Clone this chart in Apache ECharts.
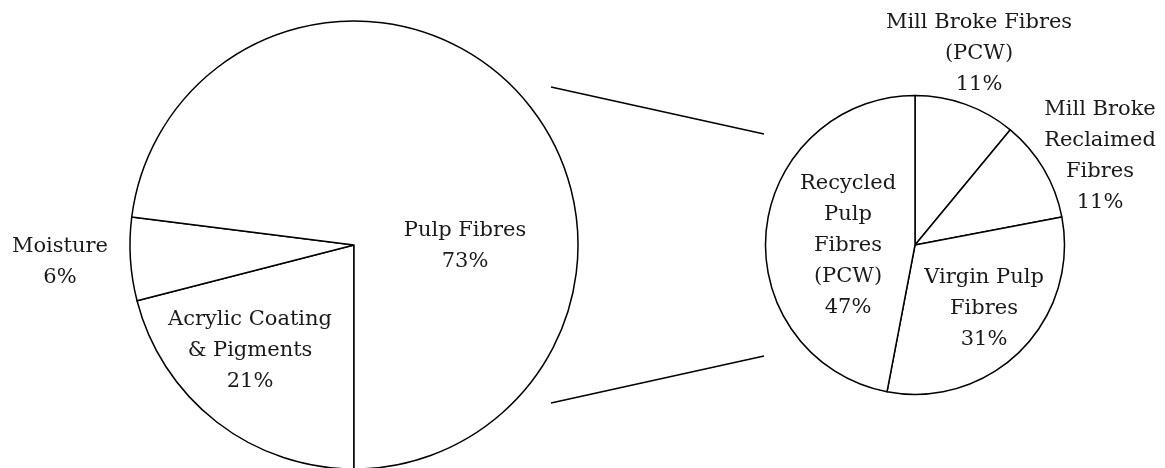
<!DOCTYPE html>
<html>
<head>
<meta charset="utf-8">
<script src="https://cdn.jsdelivr.net/npm/echarts@6/dist/echarts.min.js"></script>
<style>
  html, body { margin: 0; padding: 0; background: #fff; }
  #chart { width: 1165px; height: 468px; }
</style>
</head>
<body>
<div id="chart"></div>
<script>
// main pie: composition of the product
const mainLabels = ['Acrylic Coating\n& Pigments', 'Moisture', 'Pulp Fibres']
const mainValues = [21, 6, 73]

// breakdown of the pulp fibres
const pulpLabels = ['Mill Broke Fibres\n(PCW)', 'Mill Broke\nReclaimed\nFibres', 'Virgin Pulp\nFibres', 'Recycled\nPulp\nFibres\n(PCW)']
const pulpValues = [11, 11, 31, 47]

// label anchor points (centre of each text block), in px
const mainLabelPos = [[250, 351], [60, 262], [465, 246]]
const pulpLabelPos = [[979, 54], [1100, 156], [984, 309], [848, 246]]

const font = '"DejaVu Serif", serif'

const chart = echarts.init(document.getElementById('chart'), null, { renderer: 'canvas' })

function pieSeries(labels, values, center, radius, startAngle, labelPos) {
  return {
    type: 'pie',
    center: center,
    radius: radius,
    startAngle: startAngle,
    clockwise: true,
    silent: true,
    animation: false,
    avoidLabelOverlap: false,
    itemStyle: { color: '#fff', borderColor: '#000', borderWidth: 1.5 },
    label: {
      show: true,
      position: 'inside',
      formatter: p => p.name + '\n' + p.value + '%',
      fontFamily: font,
      fontSize: 21,
      lineHeight: 31,
      color: '#1a1a1a',
      align: 'center'
    },
    labelLine: { show: false },
    labelLayout: params => ({
      x: labelPos[params.dataIndex][0],
      y: labelPos[params.dataIndex][1],
      align: 'center',
      verticalAlign: 'middle'
    }),
    emphasis: { disabled: true },
    data: labels.map((name, i) => ({ name: name, value: values[i] }))
  }
}

const option = {
  backgroundColor: '#fff',
  animation: false,
  series: [
    pieSeries(mainLabels, mainValues, [354, 245], 224, 270, mainLabelPos),
    pieSeries(pulpLabels, pulpValues, [915, 245], 149.5, 90, pulpLabelPos)
  ],
  graphic: [
    { type: 'line', shape: { x1: 551, y1: 87, x2: 764, y2: 134 }, style: { stroke: '#000', lineWidth: 1.5 } },
    { type: 'line', shape: { x1: 551, y1: 403, x2: 764, y2: 356 }, style: { stroke: '#000', lineWidth: 1.5 } }
  ]
}

chart.setOption(option)
</script>
</body>
</html>
